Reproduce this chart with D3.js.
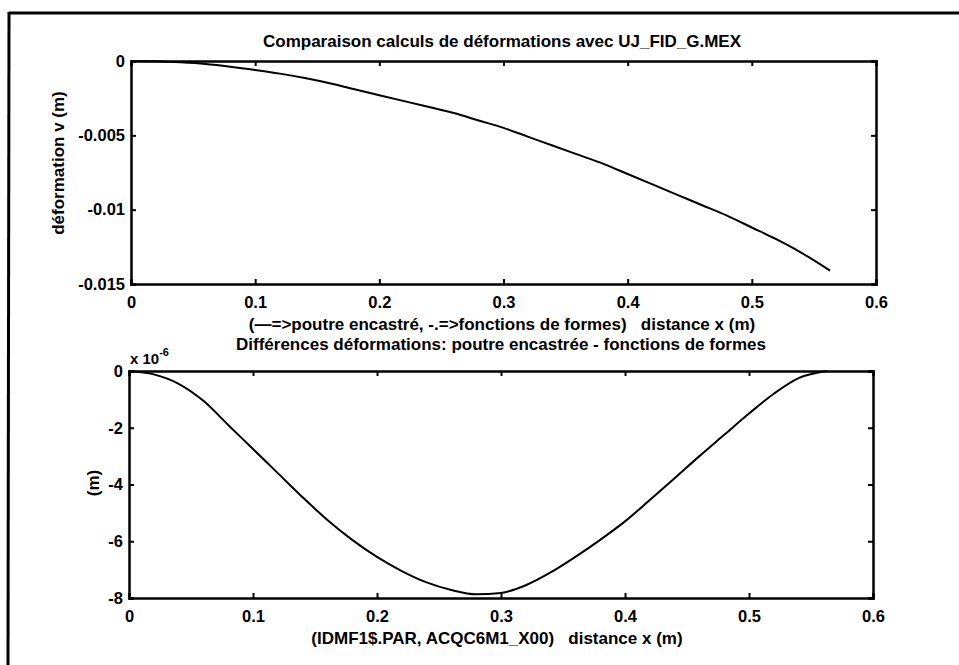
<!DOCTYPE html>
<html>
<head>
<meta charset="utf-8">
<script src="https://cdn.jsdelivr.net/npm/d3@7"></script>
<style>
  html, body { margin: 0; padding: 0; background: #fff; }
  svg { display: block; }
  text { font-family: "Liberation Sans", Arial, sans-serif; font-weight: bold; fill: #000; }
</style>
</head>
<body>
<svg id="fig" width="959" height="665"></svg>
<script>
// Positions along the beam (m)
const xPos = [0, 0.02, 0.04, 0.06, 0.08, 0.10, 0.12, 0.14, 0.16, 0.18, 0.20, 0.22, 0.24, 0.26, 0.28,
              0.30, 0.32, 0.34, 0.36, 0.38, 0.40, 0.42, 0.44, 0.46, 0.48, 0.50, 0.52, 0.54, 0.563];
// Deflection v (m)
const deflection = [0, -0.00002, -0.00009, -0.0002, -0.00038, -0.0006, -0.00085, -0.00115, -0.0015, -0.0019,
                    -0.0023, -0.0027, -0.0031, -0.0035, -0.0040, -0.0045, -0.0051, -0.0057, -0.0063, -0.0069,
                    -0.0076, -0.0083, -0.0090, -0.0097, -0.0104, -0.0112, -0.0120, -0.0129, -0.0141];
// Difference clamped beam - shape functions (x 10^-6 m)
const difference = [0, -0.12, -0.45, -1.05, -1.9, -2.75, -3.6, -4.45, -5.25, -5.95,
                    -6.55, -7.05, -7.45, -7.72, -7.87, -7.82, -7.55, -7.1, -6.55, -5.95,
                    -5.3, -4.55, -3.78, -3.0, -2.25, -1.5, -0.8, -0.25, 0];

const xTicks = [0, 0.1, 0.2, 0.3, 0.4, 0.5, 0.6];
const xTickLabels = ["0", "0.1", "0.2", "0.3", "0.4", "0.5", "0.6"];
const yTicksTop = [0, -0.005, -0.01, -0.015];
const yTickLabelsTop = ["0", "-0.005", "-0.01", "-0.015"];
const yTicksBottom = [0, -2, -4, -6, -8];
const yTickLabelsBottom = ["0", "-2", "-4", "-6", "-8"];

const titleTop = "Comparaison calculs de déformations avec UJ_FID_G.MEX";
const xLabelTop = "(\u2014=>poutre encastré, -.=>fonctions de formes)   distance x (m)";
const yLabelTop = "déformation v (m)";
const titleBottom = "Différences déformations: poutre encastrée - fonctions de formes";
const xLabelBottom = "(IDMF1$.PAR, ACQC6M1_X00)   distance x (m)";
const yLabelBottom = "(m)";

const svg = d3.select("#fig");
const labelSize = "17px";
const tickSize = "16.5px";

// outer frame (top and left edges)
svg.append("line").attr("x1", 9).attr("y1", 13).attr("x2", 959).attr("y2", 13)
  .attr("stroke", "#000").attr("stroke-width", 3);
svg.append("line").attr("x1", 9).attr("y1", 12).attr("x2", 8).attr("y2", 665)
  .attr("stroke", "#000").attr("stroke-width", 3);

function panel(opt) {
  const x = d3.scaleLinear().domain([0, 0.6]).range([opt.left, opt.right]);
  const y = d3.scaleLinear().domain(opt.yDomain).range([opt.bottom, opt.top]);
  const g = svg.append("g");
  const tl = 5;

  // inward ticks on all four sides
  g.append("g").attr("transform", `translate(0,${opt.bottom})`)
    .call(d3.axisBottom(x).tickValues(xTicks).tickSize(-tl).tickPadding(12)
      .tickFormat((d, i) => xTickLabels[i]));
  g.append("g").attr("transform", `translate(0,${opt.top})`)
    .call(d3.axisTop(x).tickValues(xTicks).tickSize(-tl).tickFormat(""));
  g.append("g").attr("transform", `translate(${opt.left},0)`)
    .call(d3.axisLeft(y).tickValues(opt.yTicks).tickSize(-tl).tickPadding(6)
      .tickFormat((d, i) => opt.yLabels[i]));
  g.append("g").attr("transform", `translate(${opt.right},0)`)
    .call(d3.axisRight(y).tickValues(opt.yTicks).tickSize(-tl).tickFormat(""));

  g.selectAll(".domain").attr("stroke", "#000").attr("stroke-width", 2.5);
  g.selectAll(".tick line").attr("stroke", "#000").attr("stroke-width", 2);
  g.selectAll(".tick text").style("font-size", tickSize)
    .style("font-family", "Liberation Sans, Arial, sans-serif").style("font-weight", "bold");

  // curve
  g.append("path")
    .datum(xPos.map((v, i) => [v, opt.values[i]]))
    .attr("fill", "none").attr("stroke", "#000").attr("stroke-width", 2)
    .attr("stroke-linejoin", "round")
    .attr("d", d3.line().curve(d3.curveMonotoneX).x(d => x(d[0])).y(d => y(d[1])));

  return { x, y, g };
}

const upperPanel = panel({ left: 131, right: 876, top: 61, bottom: 284,
  yDomain: [-0.015, 0], yTicks: yTicksTop, yLabels: yTickLabelsTop, values: deflection });
const lowerPanel = panel({ left: 129, right: 873, top: 371, bottom: 598,
  yDomain: [-8, 0], yTicks: yTicksBottom, yLabels: yTickLabelsBottom, values: difference });

// titles and axis labels
function label(txt, attrs) {
  const t = svg.append("text").attr("text-anchor", "middle").attr("xml:space", "preserve")
    .style("white-space", "pre").style("font-size", labelSize).text(txt);
  Object.entries(attrs).forEach(([k, v]) => t.attr(k, v));
  return t;
}
label(titleTop, { x: 502, y: 47 });
label(xLabelTop, { x: 502, y: 330 });
label(yLabelTop, { transform: "translate(64,163) rotate(-90)" });
label(titleBottom, { x: 501, y: 350 });
label(xLabelBottom, { x: 497, y: 644 });
label(yLabelBottom, { transform: "translate(99,483) rotate(-90)" });

// exponent marker of the lower panel
const expo = svg.append("text").attr("x", 130).attr("y", 364).style("font-size", "15px");
expo.append("tspan").text("x 10");
expo.append("tspan").attr("dy", -8).style("font-size", "11px").text("-6");
</script>
</body>
</html>
